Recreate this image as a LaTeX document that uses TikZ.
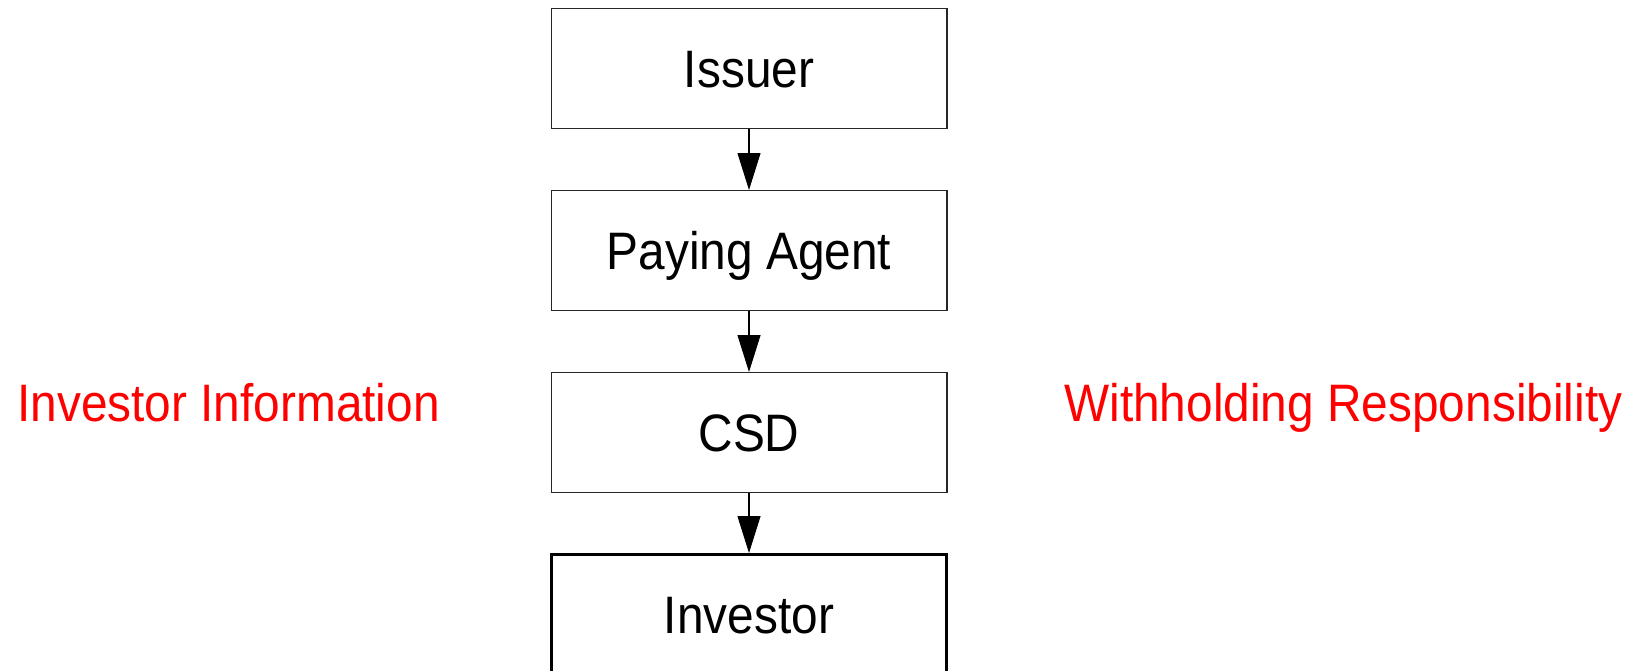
\documentclass[tikz,border=0pt]{standalone}
\usepackage{fontspec}
\setmainfont{Liberation Sans}[FakeStretch=0.907]
\usepackage{tikz}
\usetikzlibrary{arrows.meta,positioning}

\begin{document}
\begin{tikzpicture}[x=0.02cm,y=-0.02cm,
  box/.style={draw=black!85,line width=0.6pt,minimum width=7.92cm,minimum height=2.4cm,inner sep=0pt,text height=21.5pt,text depth=0pt,font=\fontsize{30}{36}\selectfont},
  note/.style={text=red,inner sep=0pt,anchor=base west,font=\fontsize{30}{36}\selectfont},
  arr/.style={line width=0.6pt,-{Triangle[length=0.74cm,width=0.46cm]}}]
\useasboundingbox (0,0) rectangle (1638,671);
\node[box] (issuer) at (749,68.5) {Issuer};
\node[box,below=1.22cm of issuer] (agent) {Paying Agent};
\node[box,below=1.22cm of agent] (csd) {CSD};
\node[box,below=1.2cm of csd,draw=black,line width=1.7pt] (investor) {Investor};
\draw[arr](issuer)--(agent);
\draw[arr](agent)--(csd);
\draw[arr](csd)--(investor);
\node[note] (info) at (17,422) {Investor Information};
\node[note] (resp) at (1064,422) {Withholding Responsibility};
\end{tikzpicture}
\end{document}
